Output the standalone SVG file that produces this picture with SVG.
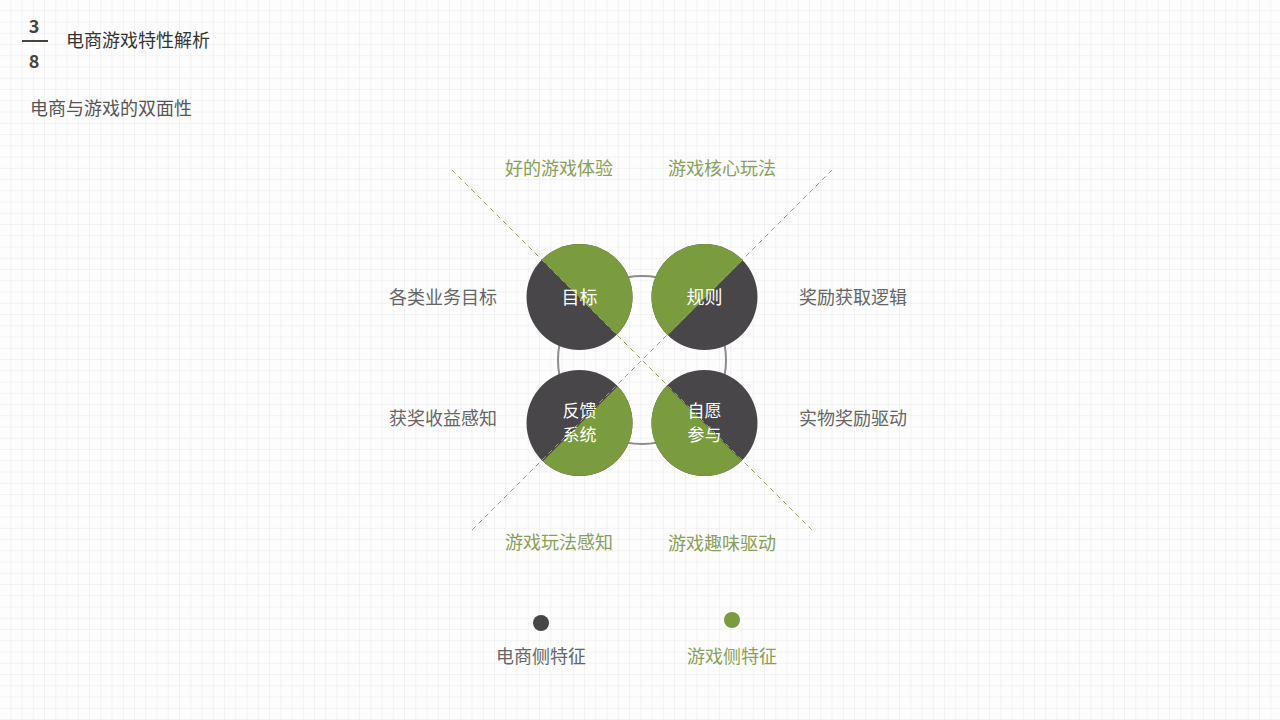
<svg xmlns="http://www.w3.org/2000/svg" width="1280" height="720" viewBox="0 0 1280 720">
<defs>
<pattern id="grid" width="11.25" height="11.25" patternUnits="userSpaceOnUse">
<path d="M11.25 0V11.25M0 11.25H11.25" fill="none" stroke="#e9e9e9" stroke-width="1"/>
</pattern>
<clipPath id="cTL"><circle cx="579.5" cy="297" r="53"/></clipPath>
<clipPath id="cTR"><circle cx="704.5" cy="297" r="53"/></clipPath>
<clipPath id="cBL"><circle cx="579.5" cy="423" r="53"/></clipPath>
<clipPath id="cBR"><circle cx="704.5" cy="423" r="53"/></clipPath>
</defs>
<style>
text{font-family:"Noto Sans CJK SC","Noto Sans",sans-serif;font-size:18px}
.gray{fill:#666666}
.green{fill:#8aa05a}
.white{fill:#ffffff;text-anchor:middle}
.two{font-size:17px}
.dark{fill:#484649}
.grn{fill:#7a9b3e}
.dash{stroke:#97a46e;stroke-width:1;stroke-dasharray:5 4;fill:none}
.mid{text-anchor:middle}
</style>
<rect width="1280" height="720" fill="#fdfdfd"/>
<rect width="1280" height="720" fill="url(#grid)"/>

<g id="header">
<text x="34" y="33" class="mid" style="font-size:18px;font-weight:bold;fill:#444">3</text>
<line x1="22" y1="41" x2="48" y2="41" stroke="#444" stroke-width="2"/>
<text x="34" y="68" class="mid" style="font-size:18px;font-weight:bold;fill:#444">8</text>
<text x="66" y="47" style="fill:#333">电商游戏特性解析</text>
<text x="30" y="115" style="fill:#555">电商与游戏的双面性</text>
</g>

<g id="ring">
<circle cx="642" cy="360" r="84" fill="none" stroke="#8c8c8c" stroke-width="2"/>
</g>

<g id="node-mubiao">
<g clip-path="url(#cTL)">
<rect x="520" y="238" width="120" height="120" class="dark"/>
<polygon points="520,238 640,238 640,358" class="grn"/>
</g>
<text x="579.5" y="304" class="white">目标</text>
</g>
<g id="node-guize">
<g clip-path="url(#cTR)">
<rect x="645" y="238" width="120" height="120" class="dark"/>
<polygon points="645,238 765,238 645,358" class="grn"/>
</g>
<text x="704.5" y="304" class="white">规则</text>
</g>
<g id="node-fankui">
<g clip-path="url(#cBL)">
<rect x="520" y="364" width="120" height="120" class="dark"/>
<polygon points="640,364 640,484 520,484" class="grn"/>
</g>
<text x="579.5" y="417" class="white two">反馈</text>
<text x="579.5" y="441" class="white two">系统</text>
</g>
<g id="node-ziyuan">
<g clip-path="url(#cBR)">
<rect x="645" y="364" width="120" height="120" class="dark"/>
<polygon points="645,364 765,484 645,484" class="grn"/>
</g>
<text x="704.5" y="417" class="white two">自愿</text>
<text x="704.5" y="441" class="white two">参与</text>
</g>

<g id="connectors">
<line x1="452" y1="170" x2="812" y2="530" class="dash"/>
<line x1="832" y1="170" x2="472" y2="530" class="dash"/>
</g>

<g id="labels">
<text x="559" y="175" class="green mid">好的游戏体验</text>
<text x="722" y="175" class="green mid">游戏核心玩法</text>
<text x="559" y="549" class="green mid">游戏玩法感知</text>
<text x="722" y="550" class="green mid">游戏趣味驱动</text>
<text x="389" y="304" class="gray">各类业务目标</text>
<text x="799" y="304" class="gray">奖励获取逻辑</text>
<text x="389" y="425" class="gray">获奖收益感知</text>
<text x="799" y="425" class="gray">实物奖励驱动</text>
</g>

<g id="legend">
<circle cx="541" cy="623" r="8" class="dark"/>
<circle cx="732" cy="620" r="8" class="grn"/>
<text x="541" y="663" class="gray mid">电商侧特征</text>
<text x="732" y="663" class="green mid">游戏侧特征</text>
</g>
</svg>
